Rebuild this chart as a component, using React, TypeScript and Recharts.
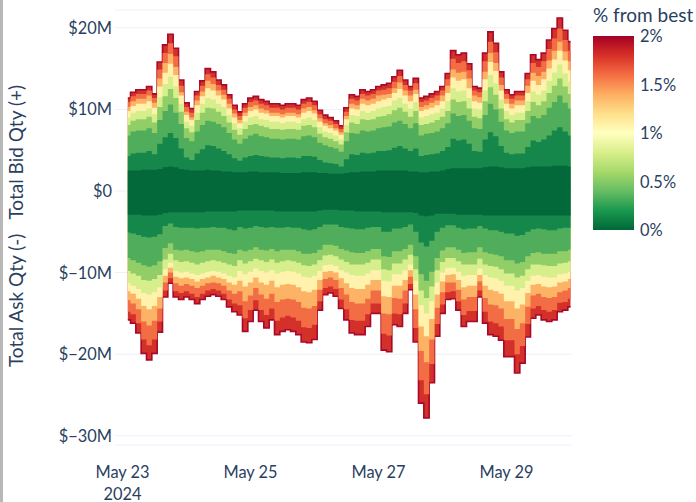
import { AreaChart, Area, XAxis, YAxis, CartesianGrid } from 'recharts'

// hours after May 23 2024 00:00, one column every 2h
const hours = [2, 4, 6, 8, 10, 12, 14, 16, 18, 20, 22, 24, 26, 28, 30, 32, 34, 36, 38, 40, 42,
  44, 46, 48, 50, 52, 54, 56, 58, 60, 62, 64, 66, 68, 70, 72, 74, 76, 78, 80, 82,
  84, 86, 88, 90, 92, 94, 96, 98, 100, 102, 104, 106, 108, 110, 112, 114, 116, 118, 120, 122,
  124, 126, 128, 130, 132, 134, 136, 138, 140, 142, 144, 146, 148, 150, 152, 154, 156, 158, 160, 162, 164, 166, 168]

// cumulative bid depth ($M) up to each % from best
const bid010 = [2.5, 2.5, 2.5, 2.6, 2.6, 2.6, 2.7, 2.9, 3.0, 2.9, 2.7, 2.6, 2.5, 2.5, 2.5, 2.6, 2.5, 2.5, 2.4, 2.4, 2.3,
  2.3, 2.3, 2.4, 2.4, 2.3, 2.3, 2.3, 2.3, 2.2, 2.2, 2.2, 2.2, 2.3, 2.3, 2.3, 2.2, 2.2, 2.1, 2.1, 2.1,
  2.2, 2.3, 2.3, 2.4, 2.4, 2.4, 2.5, 2.5, 2.5, 2.5, 2.5, 2.5, 2.4, 2.4, 2.3, 2.3, 2.4, 2.4, 2.5, 2.7,
  2.8, 2.8, 2.8, 2.8, 2.8, 2.8, 2.9, 3.0, 3.0, 2.9, 2.8, 2.8, 2.8, 2.8, 2.9, 3.0, 3.0, 3.0, 3.0, 3.1, 3.1, 3.1, 3.0]
const bid025 = [4.3, 4.6, 4.7, 4.7, 4.9, 4.5, 5.8, 6.6, 7.1, 6.5, 5.2, 4.1, 3.8, 4.6, 5.1, 5.6, 5.5, 5.2, 4.9, 4.5, 4.0,
  3.7, 4.1, 4.3, 4.4, 4.3, 4.2, 4.1, 4.1, 4.0, 4.1, 4.1, 4.0, 4.3, 4.3, 4.2, 3.8, 3.5, 3.4, 3.3, 3.0,
  3.9, 4.5, 4.4, 4.7, 4.6, 4.7, 4.9, 4.9, 5.0, 5.3, 5.5, 5.2, 4.9, 5.2, 4.3, 4.4, 4.5, 4.6, 4.9, 5.4,
  6.4, 6.2, 6.3, 5.8, 4.9, 4.8, 6.3, 7.2, 6.7, 5.5, 4.7, 4.5, 4.6, 4.6, 5.4, 6.2, 6.0, 6.3, 6.8, 7.4, 7.8, 7.3, 6.8]
const bid050 = [6.8, 7.3, 7.4, 7.4, 7.7, 7.1, 8.7, 9.8, 10.6, 9.6, 8.2, 6.5, 6.1, 7.3, 8.1, 8.6, 8.5, 8.2, 7.8, 7.1, 6.3,
  5.8, 6.4, 6.8, 7.0, 6.7, 6.6, 6.4, 6.4, 6.3, 6.4, 6.4, 6.3, 6.7, 6.8, 6.6, 5.9, 5.6, 5.4, 5.2, 4.8,
  6.1, 7.1, 7.0, 7.4, 7.3, 7.4, 7.7, 7.8, 7.9, 8.4, 8.6, 8.2, 7.7, 8.3, 6.8, 7.0, 7.1, 7.3, 7.7, 8.3,
  9.5, 9.2, 9.3, 8.6, 7.7, 7.6, 9.3, 10.7, 10.0, 8.5, 7.4, 7.1, 7.3, 7.3, 8.3, 9.2, 8.9, 9.3, 10.2, 10.9, 11.7, 10.8, 10.1]
const bid075 = [8.1, 8.6, 8.8, 8.8, 9.1, 8.4, 10.3, 11.6, 12.5, 11.4, 9.7, 7.7, 7.2, 8.7, 9.6, 10.2, 10.1, 9.7, 9.2, 8.4, 7.5,
  6.9, 7.6, 8.1, 8.2, 8.0, 7.8, 7.6, 7.6, 7.5, 7.6, 7.6, 7.5, 8.0, 8.1, 7.8, 7.0, 6.6, 6.4, 6.1, 5.7,
  7.2, 8.4, 8.2, 8.8, 8.7, 8.8, 9.1, 9.2, 9.4, 9.9, 10.2, 9.7, 9.1, 9.8, 8.1, 8.2, 8.4, 8.7, 9.1, 9.8,
  11.2, 10.9, 11.0, 10.1, 9.1, 8.9, 11.0, 12.7, 11.8, 10.1, 8.8, 8.4, 8.7, 8.7, 9.8, 10.9, 10.5, 11.0, 12.0, 12.9, 13.8, 12.8, 11.9]
const bid100 = [9.0, 9.6, 9.8, 9.8, 10.1, 9.4, 11.5, 13.1, 14.0, 12.8, 10.7, 8.5, 8.0, 9.6, 10.7, 11.4, 11.2, 10.7, 10.3, 9.3, 8.3,
  7.7, 8.5, 9.0, 9.2, 8.8, 8.7, 8.5, 8.5, 8.3, 8.5, 8.5, 8.3, 8.8, 9.0, 8.7, 7.8, 7.3, 7.1, 6.8, 6.3,
  8.1, 9.3, 9.2, 9.8, 9.6, 9.8, 10.1, 10.3, 10.4, 11.1, 11.4, 10.7, 10.1, 10.9, 9.0, 9.2, 9.4, 9.6, 10.1, 11.0,
  12.6, 12.2, 12.3, 11.4, 10.1, 10.0, 12.3, 14.2, 13.2, 11.2, 9.8, 9.3, 9.6, 9.6, 11.0, 12.2, 11.8, 12.3, 13.5, 14.5, 15.5, 14.4, 13.4]
const bid125 = [9.8, 10.4, 10.7, 10.7, 11.0, 10.2, 12.8, 14.5, 15.6, 14.2, 11.7, 9.3, 8.7, 10.5, 11.6, 12.6, 12.3, 11.7, 11.2, 10.1, 9.0,
  8.3, 9.2, 9.8, 10.0, 9.6, 9.5, 9.2, 9.2, 9.0, 9.2, 9.2, 9.0, 9.6, 9.8, 9.5, 8.5, 8.0, 7.7, 7.4, 6.9,
  8.8, 10.1, 10.0, 10.7, 10.5, 10.7, 11.0, 11.2, 11.4, 12.0, 12.5, 11.7, 11.0, 11.9, 9.8, 10.0, 10.2, 10.5, 11.0, 12.0,
  13.9, 13.5, 13.7, 12.6, 11.0, 10.8, 13.7, 15.8, 14.7, 12.3, 10.7, 10.1, 10.5, 10.5, 12.0, 13.5, 13.0, 13.7, 15.0, 16.1, 17.2, 16.0, 14.8]
const bid150 = [10.3, 11.0, 11.3, 11.3, 11.7, 10.8, 13.8, 15.7, 16.8, 15.2, 12.1, 9.7, 9.0, 11.1, 12.2, 13.5, 13.1, 12.3, 11.8, 10.7, 9.5,
  8.7, 9.6, 10.3, 10.5, 10.1, 9.9, 9.6, 9.6, 9.4, 9.6, 9.6, 9.4, 10.1, 10.3, 9.9, 8.9, 8.3, 8.1, 7.7, 7.2,
  9.2, 10.7, 10.5, 11.3, 11.1, 11.3, 11.7, 11.8, 11.9, 12.6, 13.3, 12.3, 11.7, 12.4, 10.3, 10.5, 10.8, 11.1, 11.7, 12.9,
  14.9, 14.5, 14.6, 13.8, 11.7, 11.5, 14.6, 16.9, 15.7, 13.0, 11.3, 10.7, 11.1, 11.1, 12.9, 14.5, 14.1, 14.6, 16.0, 17.2, 18.3, 17.1, 15.9]
const bid175 = [10.9, 11.6, 11.9, 11.9, 12.3, 11.4, 14.9, 16.9, 18.1, 16.5, 12.9, 10.3, 9.6, 11.7, 12.9, 14.3, 13.9, 13.0, 12.4, 11.3, 10.0,
  9.2, 10.2, 10.9, 11.1, 10.7, 10.5, 10.2, 10.2, 10.0, 10.2, 10.2, 10.0, 10.7, 10.9, 10.5, 9.4, 8.8, 8.6, 8.2, 7.6,
  9.7, 11.3, 11.1, 11.9, 11.7, 11.9, 12.3, 12.4, 12.6, 13.4, 14.1, 13.0, 12.3, 13.2, 10.9, 11.1, 11.4, 11.7, 12.3, 13.7,
  16.2, 15.7, 15.9, 14.8, 12.3, 12.1, 15.9, 18.3, 17.0, 13.9, 11.9, 11.3, 11.7, 11.7, 13.7, 15.7, 15.2, 15.9, 17.4, 18.7, 19.9, 18.5, 17.2]
const bid200 = [11.4, 12.1, 12.4, 12.4, 12.8, 11.9, 15.8, 17.9, 19.2, 17.5, 13.6, 10.8, 10.1, 12.2, 13.5, 15.0, 14.6, 13.6, 13.0, 11.8, 10.5,
  9.7, 10.7, 11.4, 11.6, 11.2, 11.0, 10.7, 10.7, 10.5, 10.7, 10.7, 10.5, 11.2, 11.4, 11.0, 9.9, 9.3, 9.0, 8.6, 8.0,
  10.2, 11.8, 11.6, 12.4, 12.2, 12.4, 12.8, 13.0, 13.2, 14.0, 14.8, 13.6, 12.8, 13.8, 11.4, 11.6, 11.9, 12.2, 12.8, 14.4,
  17.2, 16.7, 16.9, 15.6, 12.8, 12.6, 16.9, 19.5, 18.1, 14.6, 12.4, 11.8, 12.2, 12.2, 14.4, 16.7, 16.1, 16.9, 18.5, 19.9, 21.2, 19.7, 18.3]

// cumulative ask depth ($M) up to each % from best, plotted below zero
const ask010 = [2.9, 2.9, 2.9, 3.0, 3.0, 3.0, 2.9, 2.7, 2.6, 2.6, 2.6, 2.6, 2.6, 2.6, 2.6, 2.5, 2.5, 2.5, 2.5, 2.5, 2.5,
  2.4, 2.4, 2.4, 2.4, 2.4, 2.4, 2.4, 2.5, 2.5, 2.5, 2.5, 2.5, 2.5, 2.5, 2.5, 2.4, 2.3, 2.3, 2.3, 2.4,
  2.4, 2.4, 2.5, 2.5, 2.5, 2.5, 2.5, 2.6, 2.6, 2.6, 2.6, 2.6, 2.6, 2.7, 3.0, 3.1, 3.0, 2.8, 2.8, 2.8,
  2.8, 2.9, 2.9, 2.9, 2.9, 2.9, 3.0, 3.0, 3.0, 3.0, 3.0, 3.0, 3.0, 3.0, 3.0, 3.0, 3.0, 3.0, 3.0, 3.0, 3.0, 3.0, 3.0]
const ask025 = [5.1, 5.2, 5.4, 5.6, 5.7, 5.6, 5.3, 4.3, 4.0, 4.4, 4.5, 4.5, 4.5, 4.6, 4.5, 4.5, 4.4, 4.5, 4.5, 4.7, 4.8,
  4.4, 4.6, 4.5, 4.3, 4.4, 4.5, 4.4, 4.5, 4.5, 4.4, 4.5, 4.5, 4.7, 4.8, 4.7, 4.4, 4.1, 4.1, 4.1, 4.4,
  4.5, 4.6, 4.7, 4.7, 4.5, 4.4, 4.4, 5.0, 5.0, 4.6, 4.6, 4.4, 4.1, 5.0, 6.3, 6.8, 6.1, 5.0, 4.5, 4.2,
  4.2, 4.5, 4.7, 4.6, 4.6, 4.3, 4.6, 4.8, 4.8, 5.0, 5.2, 5.2, 5.5, 5.4, 5.0, 4.7, 4.6, 4.7, 4.8, 4.8, 4.6, 4.5, 4.5]
const ask050 = [8.2, 8.5, 8.8, 9.1, 9.3, 9.1, 8.6, 7.0, 6.4, 7.2, 7.3, 7.2, 7.4, 7.5, 7.4, 7.2, 7.2, 7.2, 7.4, 7.6, 7.7,
  7.2, 7.4, 7.2, 6.9, 7.2, 7.3, 7.1, 7.4, 7.2, 7.2, 7.2, 7.4, 7.7, 7.7, 7.6, 7.2, 6.6, 6.6, 6.7, 7.1,
  7.3, 7.5, 7.6, 7.6, 7.4, 7.1, 7.1, 8.0, 8.1, 7.4, 7.4, 7.1, 6.6, 8.0, 10.2, 11.0, 9.9, 8.2, 7.3, 6.9,
  6.9, 7.2, 7.6, 7.5, 7.5, 6.9, 7.5, 7.7, 7.8, 8.0, 8.5, 8.5, 8.9, 8.7, 8.0, 7.6, 7.5, 7.7, 7.7, 7.7, 7.4, 7.4, 7.2]
const ask075 = [9.8, 10.1, 10.4, 10.9, 11.0, 10.8, 10.3, 8.4, 7.7, 8.5, 8.7, 8.6, 8.8, 9.0, 8.8, 8.6, 8.5, 8.6, 8.8, 9.0, 9.2,
  8.5, 8.9, 8.6, 8.3, 8.5, 8.7, 8.4, 8.8, 8.6, 8.5, 8.6, 8.8, 9.1, 9.2, 9.0, 8.5, 7.9, 7.8, 8.0, 8.4,
  8.7, 9.0, 9.0, 9.0, 8.8, 8.4, 8.4, 9.6, 9.7, 8.9, 8.9, 8.4, 7.8, 9.6, 12.2, 13.1, 11.7, 9.7, 8.7, 8.2,
  8.2, 8.6, 9.0, 9.0, 9.0, 8.3, 9.0, 9.2, 9.3, 9.6, 10.1, 10.1, 10.6, 10.4, 9.6, 9.0, 9.0, 9.1, 9.2, 9.2, 8.9, 8.8, 8.6]
const ask100 = [11.3, 11.6, 12.0, 12.5, 12.7, 12.4, 11.8, 9.6, 8.8, 9.8, 10.0, 9.9, 10.1, 10.3, 10.1, 9.9, 9.8, 9.9, 10.1, 10.4, 10.6,
  9.8, 10.2, 9.9, 9.5, 9.8, 10.0, 9.7, 10.1, 9.9, 9.8, 9.9, 10.1, 10.5, 10.6, 10.4, 9.8, 9.1, 9.0, 9.2, 9.7,
  10.0, 10.3, 10.4, 10.4, 10.1, 9.7, 9.7, 11.0, 11.1, 10.2, 10.2, 9.7, 9.0, 11.0, 14.0, 15.0, 13.5, 11.2, 10.0, 9.4,
  9.4, 9.9, 10.4, 10.3, 10.3, 9.5, 10.3, 10.6, 10.7, 11.0, 11.6, 11.6, 12.2, 11.9, 11.0, 10.4, 10.3, 10.5, 10.6, 10.6, 10.2, 10.1, 9.9]
const ask125 = [12.3, 12.6, 13.2, 14.1, 14.5, 14.1, 13.0, 10.4, 9.4, 10.5, 10.7, 10.6, 10.8, 11.1, 10.8, 10.6, 10.4, 10.6, 10.8, 11.2, 11.5,
  11.0, 11.7, 11.2, 10.6, 11.2, 11.5, 11.0, 11.8, 11.5, 11.4, 11.5, 11.8, 12.3, 12.4, 12.1, 10.9, 9.9, 9.8, 10.0, 10.7,
  11.3, 11.9, 12.0, 12.0, 11.5, 10.9, 10.9, 12.9, 13.0, 11.6, 11.6, 10.9, 9.7, 12.7, 16.6, 17.8, 15.7, 12.7, 11.1, 10.3,
  10.2, 10.9, 11.8, 11.6, 11.6, 10.3, 11.6, 12.1, 12.3, 12.6, 13.5, 13.5, 14.4, 13.9, 12.5, 11.5, 11.4, 11.7, 11.8, 11.7, 11.2, 11.1, 10.8]
const ask150 = [13.4, 13.8, 14.5, 16.0, 16.5, 15.9, 14.4, 11.2, 10.0, 11.3, 11.6, 11.4, 11.6, 11.9, 11.6, 11.3, 11.2, 11.3, 11.6, 12.2, 12.6,
  12.3, 13.5, 12.8, 11.9, 12.7, 13.2, 12.6, 13.6, 13.3, 13.2, 13.3, 13.6, 14.3, 14.4, 14.1, 12.1, 10.8, 10.6, 10.9, 11.9,
  12.7, 13.6, 13.8, 13.8, 13.2, 12.2, 12.2, 15.0, 15.1, 13.1, 13.2, 12.2, 10.5, 14.5, 19.6, 21.0, 18.2, 14.3, 12.4, 11.2,
  11.2, 12.1, 13.3, 13.0, 13.0, 11.1, 13.1, 13.9, 14.0, 14.4, 15.7, 15.7, 16.9, 16.2, 14.2, 12.8, 12.6, 13.0, 13.1, 13.0, 12.4, 12.2, 11.9]
const ask175 = [14.8, 15.1, 16.2, 18.2, 18.9, 18.2, 16.0, 12.2, 10.7, 12.3, 12.5, 12.3, 12.6, 13.0, 12.6, 12.2, 12.0, 12.2, 12.6, 13.3, 13.8,
  14.0, 15.6, 14.6, 13.4, 14.6, 15.2, 14.4, 15.9, 15.5, 15.3, 15.5, 15.9, 16.7, 16.8, 16.4, 13.5, 11.9, 11.7, 12.0, 13.3,
  14.5, 15.8, 15.9, 15.9, 15.1, 13.8, 13.8, 17.5, 17.7, 15.0, 15.1, 13.8, 11.4, 16.8, 23.2, 24.9, 21.2, 16.3, 13.9, 12.4,
  12.3, 13.5, 15.2, 14.7, 14.7, 12.2, 14.8, 16.0, 16.2, 16.6, 18.3, 18.3, 20.0, 19.0, 16.3, 14.4, 14.1, 14.6, 14.8, 14.6, 13.7, 13.6, 13.2]
const ask200 = [15.8, 16.2, 17.4, 19.9, 20.7, 19.9, 17.3, 13.0, 11.3, 13.0, 13.3, 13.0, 13.3, 13.8, 13.3, 12.9, 12.7, 12.9, 13.3, 14.2, 14.8,
  15.2, 17.2, 16.0, 14.6, 16.0, 16.8, 15.8, 17.6, 17.2, 17.0, 17.2, 17.6, 18.5, 18.6, 18.2, 14.6, 12.7, 12.5, 12.9, 14.4,
  15.8, 17.4, 17.6, 17.6, 16.6, 15.0, 15.0, 19.5, 19.7, 16.4, 16.6, 15.0, 12.1, 18.5, 26.0, 27.8, 23.5, 17.8, 15.0, 13.3,
  13.2, 14.6, 16.6, 16.0, 16.0, 13.0, 16.2, 17.6, 17.8, 18.3, 20.3, 20.3, 22.3, 21.1, 17.9, 15.6, 15.2, 15.8, 16.0, 15.8, 14.8, 14.6, 14.2]

// band colours: 0-0.1%, 0.1-0.25%, 0.25-0.5%, ... 1.75-2%
const bandColors = ['#04693a', '#16874a', '#4fad5b', '#92ce67', '#d6ee8c', '#fff2ac', '#fdb365', '#f26c44', '#d3302a']
const edgeColor = '#a8092a'

const yTicks = [-30, -20, -10, 0, 10, 20]
const xTicks = [0, 48, 96, 144]
const xTickLabels = [['May 23', '2024'], ['May 25'], ['May 27'], ['May 29']]
const cbTicks = ['2%', '1.5%', '1%', '0.5%', '0%']
const cbStops = ['#006837', '#1a9850', '#66bd63', '#a6d96a', '#d9ef8b', '#ffffbf', '#fee08b', '#fdae61', '#f46d43', '#d73027', '#a50026']

const FONT = 'Lato, "Open Sans", sans-serif'
const INK = '#2a3f5f'

const bidLevels = [bid010, bid025, bid050, bid075, bid100, bid125, bid150, bid175, bid200]
const askLevels = [ask010, ask025, ask050, ask075, ask100, ask125, ask150, ask175, ask200]

const data = hours.map((t, i) => {
  const row: Record<string, number> = { t }
  bidLevels.forEach((arr, k) => { row['b' + k] = arr[i] })
  askLevels.forEach((arr, k) => { row['a' + k] = -arr[i] })
  return row
})

const fmtMoney = (v: number) => (v === 0 ? '$0' : v < 0 ? `$\u2212${-v}M` : `$${v}M`)

function YTick({ y, payload }: any) {
  return (
    <text x={112} y={y + 6} textAnchor="end" fill={INK} fontSize={16.4} fontFamily={FONT}>
      {fmtMoney(payload.value)}
    </text>
  )
}

function XTick({ x, payload }: any) {
  const lines = xTickLabels[xTicks.indexOf(payload.value)] || []
  return (
    <text x={x} y={478} textAnchor="middle" fill={INK} fontSize={16.4} fontFamily={FONT}>
      {lines.map((l, i) => (
        <tspan key={i} x={x} dy={i === 0 ? 0 : 22}>{l}</tspan>
      ))}
    </text>
  )
}

// outermost level first so the inner levels paint over it
const order = [8, 7, 6, 5, 4, 3, 2, 1, 0]

export default function App() {
  return (
    <div style={{ position: 'absolute', left: 0, top: 0, width: 696, height: 502, background: '#fff', overflow: 'hidden' }}>
      <div style={{ position: 'absolute', left: 0, top: 0, width: 3, height: 502, background: '#b8b8b8' }} />
      <AreaChart width={696} height={502} data={data} margin={{ top: 10, right: 124, bottom: 0, left: 0 }}>
        <CartesianGrid vertical={false} stroke="#ebf0f8" strokeWidth={1} />
        <XAxis
          dataKey="t"
          type="number"
          domain={[-2.8125, 168.5625]}
          allowDataOverflow
          ticks={xTicks}
          interval={0}
          height={57}
          axisLine={false}
          tickLine={false}
          tick={<XTick />}
        />
        <YAxis
          type="number"
          domain={[-31.13, 22.18]}
          allowDataOverflow
          ticks={yTicks}
          interval={0}
          width={115}
          axisLine={false}
          tickLine={false}
          tick={<YTick />}
        />
        {['b', 'a'].flatMap(side =>
          order.map(k => (
            <Area
              key={side + k}
              dataKey={side + k}
              type="step"
              baseValue={0}
              stroke={k === 8 ? edgeColor : 'none'}
              strokeWidth={k === 8 ? 1.6 : 0}
              fill={bandColors[k]}
              fillOpacity={1}
              dot={false}
              activeDot={false}
              isAnimationActive={false}
            />
          ))
        )}
      </AreaChart>
      <svg width={696} height={502} style={{ position: 'absolute', left: 0, top: 0, pointerEvents: 'none' }}>
        <defs>
          <linearGradient id="cbGrad" x1="0" y1="1" x2="0" y2="0">
            {cbStops.map((c, i) => (
              <stop key={i} offset={i / (cbStops.length - 1)} stopColor={c} />
            ))}
          </linearGradient>
        </defs>
        <text transform="translate(23,226) rotate(-90)" textAnchor="middle" fill={INK} fontSize={19} fontFamily={FONT} style={{ whiteSpace: 'pre' }}>
          {'Total Ask Qty (-)   Total Bid Qty (+)'}
        </text>
        <text x={593} y={22} fill={INK} fontSize={19} fontFamily={FONT}>% from best</text>
        <rect x={593} y={36} width={41} height={194} fill="url(#cbGrad)" />
        {cbTicks.map((l, i) => (
          <text key={l} x={640} y={36 + i * 48.5 + 6} fill={INK} fontSize={16.4} fontFamily={FONT}>{l}</text>
        ))}
      </svg>
    </div>
  )
}
